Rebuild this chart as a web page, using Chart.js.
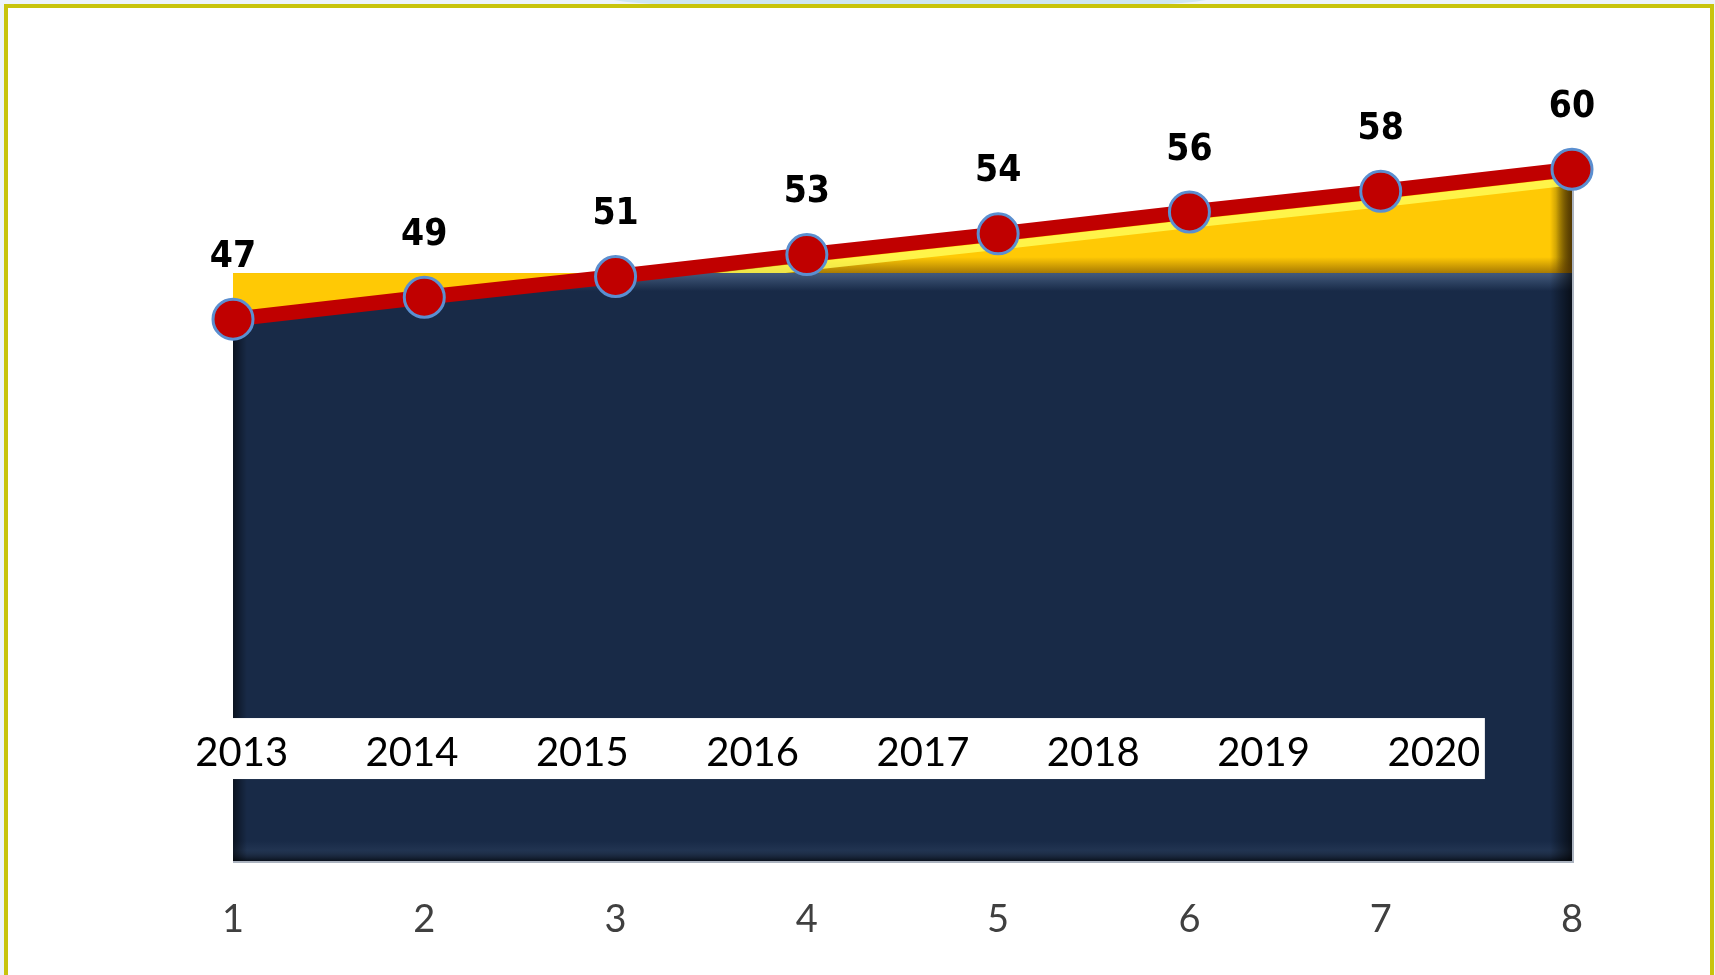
<!DOCTYPE html>
<html>
<head>
<meta charset="utf-8">
<script src="https://cdn.jsdelivr.net/npm/chart.js@4"></script>
<style>
  html, body { margin: 0; padding: 0; width: 1715px; height: 975px; overflow: hidden; background: #edf3fa; }
  #glow { position: absolute; left: 610px; top: -14px; width: 600px; height: 24px; border-radius: 50%; background: #cfe6f3; }
  #frame { position: absolute; left: 4px; top: 4px; width: 1702px; height: 1000px; border: 4px solid #c8c40c; background: #fff; }
  #wrap { position: absolute; left: 0; top: 0; width: 1715px; height: 975px; }
</style>
</head>
<body>
<div id="glow"></div>
<div id="frame"></div>
<div id="wrap"><canvas id="chart" width="1715" height="975"></canvas></div>
<script>
// x categories along the bottom
const categories = ["1", "2", "3", "4", "5", "6", "7", "8"];
// year strip labels
const years = [2013, 2014, 2015, 2016, 2017, 2018, 2019, 2020];
// red line values (labels show them rounded)
const values = [47, 48.9, 50.7, 52.6, 54.4, 56.3, 58.1, 60];
// level of the flat navy block top
const baseLevel = [51, 51, 51, 51, 51, 51, 51, 51];

const YEAR_AXIS_AT = 12.4;

const linGrad = (ctx, x0, y0, x1, y1, stops) => {
  const g = ctx.createLinearGradient(x0, y0, x1, y1);
  stops.forEach(([o, c]) => g.addColorStop(o, c));
  return g;
};

// bevel shading on the navy block and the yellow wedge
const bevel = {
  id: "bevel",
  beforeDatasetsDraw(chart) {
    const { ctx, scales } = chart;
    const pts = chart.getDatasetMeta(1).data;
    const left = pts[0].x;
    const right = pts[pts.length - 1].x;
    const yb = scales.y.getPixelForValue(0);
    const yl = scales.y.getPixelForValue(baseLevel[0]);

    // navy region
    ctx.save();
    ctx.beginPath();
    ctx.moveTo(left, yb);
    pts.forEach((p) => ctx.lineTo(p.x, p.y));
    ctx.lineTo(right, yb);
    ctx.closePath();
    ctx.clip();
    ctx.fillStyle = linGrad(ctx, 0, yl, 0, yl + 18, [[0, "rgba(120,150,190,0.45)"], [1, "rgba(120,150,190,0)"]]);
    ctx.fillRect(left, yl, right - left, 18);
    ctx.fillStyle = linGrad(ctx, 0, yb - 20, 0, yb, [[0, "rgba(60,80,110,0)"], [0.45, "rgba(60,80,110,0.25)"], [1, "rgba(0,0,0,0.6)"]]);
    ctx.fillRect(left, yb - 20, right - left, 20);
    ctx.fillStyle = linGrad(ctx, right - 22, 0, right, 0, [[0, "rgba(0,0,0,0)"], [1, "rgba(0,0,0,0.65)"]]);
    ctx.fillRect(right - 22, 0, 22, yb);
    ctx.fillStyle = linGrad(ctx, left, 0, left + 14, 0, [[0, "rgba(0,0,0,0.55)"], [1, "rgba(0,0,0,0)"]]);
    ctx.fillRect(left, 0, 14, yb);
    ctx.restore();

    // yellow region
    ctx.save();
    ctx.beginPath();
    ctx.moveTo(left, yl);
    pts.forEach((p) => ctx.lineTo(p.x, p.y));
    ctx.lineTo(right, yl);
    ctx.closePath();
    ctx.clip();
    ctx.fillStyle = linGrad(ctx, 0, yl - 16, 0, yl, [[0, "rgba(110,70,0,0)"], [1, "rgba(110,70,0,0.6)"]]);
    ctx.fillRect(left, yl - 16, right - left, 16);
    ctx.fillStyle = linGrad(ctx, right - 16, 0, right, 0, [[0, "rgba(80,50,0,0)"], [1, "rgba(80,50,0,0.7)"]]);
    ctx.fillRect(right - 16, 0, 16, yl);
    ctx.strokeStyle = "rgba(255,255,90,0.8)";
    ctx.lineWidth = 8;
    ctx.beginPath();
    pts.forEach((p, i) => (i ? ctx.lineTo(p.x, p.y + 12) : ctx.moveTo(p.x, p.y + 12)));
    ctx.stroke();
    ctx.restore();

    // faint grey rim below and right of the block
    ctx.save();
    ctx.strokeStyle = "rgba(150,160,175,0.8)";
    ctx.lineWidth = 2;
    ctx.beginPath();
    ctx.moveTo(left, yb + 1);
    ctx.lineTo(right + 1, yb + 1);
    ctx.lineTo(right + 1, pts[pts.length - 1].y);
    ctx.stroke();
    ctx.restore();
  },
};

const valueLabels = {
  id: "valueLabels",
  afterDatasetsDraw(chart) {
    const { ctx } = chart;
    const meta = chart.getDatasetMeta(1);
    ctx.save();
    ctx.font = "bold 37px 'DejaVu Sans Condensed', 'DejaVu Sans'";
    ctx.fillStyle = "#000";
    ctx.textAlign = "center";
    ctx.textBaseline = "middle";
    meta.data.forEach((pt, i) => {
      ctx.fillText(String(Math.round(values[i])), pt.x, pt.y - 62);
    });
    ctx.restore();
  },
};

const yearStrip = {
  id: "yearStrip",
  afterDatasetsDraw(chart) {
    const { ctx, scales } = chart;
    const x2 = scales.x2;
    const top = scales.y.getPixelForValue(YEAR_AXIS_AT);
    const left = x2.getPixelForValue(years[0]) - 54;
    const right = x2.getPixelForValue(years[years.length - 1]) + 51;
    ctx.save();
    ctx.fillStyle = "#fff";
    ctx.fillRect(left, top, right - left, 61);
    ctx.restore();
  },
};

new Chart(document.getElementById("chart"), {
  type: "line",
  data: {
    labels: categories,
    datasets: [
      {
        label: "base",
        data: baseLevel,
        fill: 1,
        backgroundColor: "#ffc905",
        borderWidth: 0,
        pointRadius: 0,
      },
      {
        label: "values",
        data: values,
        fill: "origin",
        backgroundColor: "#182a47",
        borderColor: "#c00000",
        borderWidth: 15,
        pointRadius: 20,
        pointBorderWidth: 3,
        pointBackgroundColor: "#c00000",
        pointBorderColor: "#5b8fd0",
        tension: 0,
      },
    ],
  },
  options: {
    responsive: false,
    animation: false,
    layout: { padding: { left: 233, right: 1715 - 1572, top: 54, bottom: 0 } },
    plugins: {
      legend: { display: false },
      tooltip: { enabled: false },
      filler: { drawTime: "beforeDatasetsDraw" },
    },
    scales: {
      x: {
        offset: false,
        grid: { display: false, drawTicks: false },
        border: { display: false },
        ticks: {
          color: "#404040",
          padding: 36,
          font: { family: "'Liberation Sans Narrow', Lato", size: 38 },
        },
        afterFit: (scale) => { scale.height = 114; },
      },
      x2: {
        type: "linear",
        axis: "x",
        position: { y: YEAR_AXIS_AT },
        min: 2012.949,
        max: 2020.811,
        grid: { display: false, drawTicks: false },
        border: { display: false },
        ticks: {
          z: 1,
          stepSize: 1,
          includeBounds: false,
          autoSkip: false,
          maxRotation: 0,
          color: "#000",
          padding: 11,
          font: { family: "'Liberation Sans Narrow', Lato", size: 40 },
          callback: (v) => (years.includes(v) ? String(v) : ""),
        },
      },
      y: {
        display: false,
        min: 0,
        max: 70,
      },
    },
  },
  plugins: [bevel, yearStrip, valueLabels],
});
</script>
</body>
</html>
